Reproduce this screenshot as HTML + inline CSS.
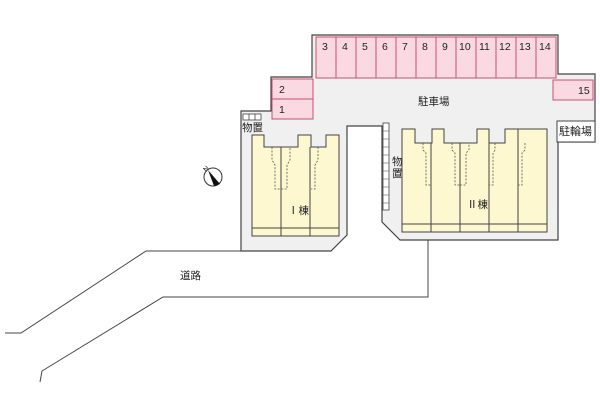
<!DOCTYPE html>
<html><head><meta charset="utf-8"><style>body{margin:0;background:#fff}svg{display:block}text{font-family:"Liberation Sans","Noto Sans CJK JP",sans-serif;fill:#222}</style></head><body>
<svg width="600" height="400" viewBox="0 0 600 400">
<path d="M312,35 H558 V74 H595 V142 H558 V240 H400 L382,222 V126 H347 V235 L331,251 H241 V111 H271 V77 H312 Z" fill="#f0f0f0" stroke="#444" stroke-width="1.2"/>
<g fill="#fbd9e2" stroke="#c8506e" stroke-width="1">
<rect x="316" y="37" width="240" height="41"/>
<rect x="272" y="79" width="41" height="20"/><rect x="272" y="99" width="41" height="20"/>
<rect x="553" y="80" width="40" height="20"/>
</g>
<g stroke="#c8506e"><path d="M336,37V78M356,37V78M376,37V78M396,37V78M416,37V78M436,37V78M456,37V78M476,37V78M496,37V78M516,37V78M536,37V78"/></g>
<g font-size="10.5">
<text x="322" y="50">3</text><text x="342" y="50">4</text><text x="362" y="50">5</text><text x="382" y="50">6</text><text x="402" y="50">7</text><text x="422" y="50">8</text><text x="442" y="50">9</text><text x="459" y="50">10</text><text x="479" y="50">11</text><text x="499" y="50">12</text><text x="519" y="50">13</text><text x="539" y="50">14</text>
<text x="279" y="93">2</text><text x="279" y="113">1</text><text x="578" y="94">15</text>
<text x="418" y="105">駐車場</text>
</g>
<rect x="557" y="121" width="38" height="21" fill="#fff" stroke="#444"/>
<text x="559" y="135" font-size="11">駐輪場</text>
<rect x="243" y="114" width="18" height="6" fill="#fff" stroke="#444" stroke-width=".8"/>
<path d="M249,114V120M255,114V120" stroke="#444" stroke-width=".8"/>
<text x="242" y="131" font-size="10.5">物置</text>
<rect x="383" y="123" width="6" height="87" fill="#fff" stroke="#444" stroke-width=".8"/>
<path d="M383,131H389M383,139H389M383,147H389M383,155H389M383,163H389M383,171H389M383,179H389M383,187H389M383,195H389M383,203H389" stroke="#444" stroke-width=".6"/>
<text x="392" y="165" font-size="10.5">物</text><text x="392" y="177" font-size="10.5">置</text>
<path d="M252,135H264V147H298V135H311V147H326V135H339V236H252Z" fill="#fdf8cf" stroke="#444"/>
<path d="M252,228H339M281,147V236M310,147V236" stroke="#444"/>
<path d="M272,147V160L275,165V189H287V165L290,160V147M318,147V160L315,165V189H311" stroke="#555" stroke-dasharray="2,1.5" fill="none" stroke-width=".8"/>
<text x="288" y="214" font-size="10.5">Ⅰ棟</text>
<path d="M402,129H415V143H432V129H444V143H477V129H489V143H505V129H518V143H518V129H547V232H402Z" fill="#fdf8cf" stroke="#444"/>
<path d="M402,224H547M431,143V232M460,143V232M489,143V232M518,143V232" stroke="#444"/>
<path d="M423,143V150L426,153V185H431M452,143V150L455,153V185H460M460,185H466V153L469,150V143M495,143V150L493,153V185H489M525,143V150L522,153V185H518" stroke="#555" stroke-dasharray="2,1.5" fill="none" stroke-width=".8"/>
<text x="467" y="208" font-size="10.5">Ⅱ棟</text>
<path d="M5,333H21L146,251H241M40,382L42,371L163,297H428V240" fill="none" stroke="#444" stroke-width="1"/>
<text x="180" y="279" font-size="10.5">道路</text>
<circle cx="213" cy="177" r="9" fill="#fff" stroke="#333"/>
<path d="M208,170L220,184L214,186Z" fill="#111"/>
<text x="203" y="171" font-size="7" transform="rotate(-45 206 168)">N</text>
</svg>
</body></html>
